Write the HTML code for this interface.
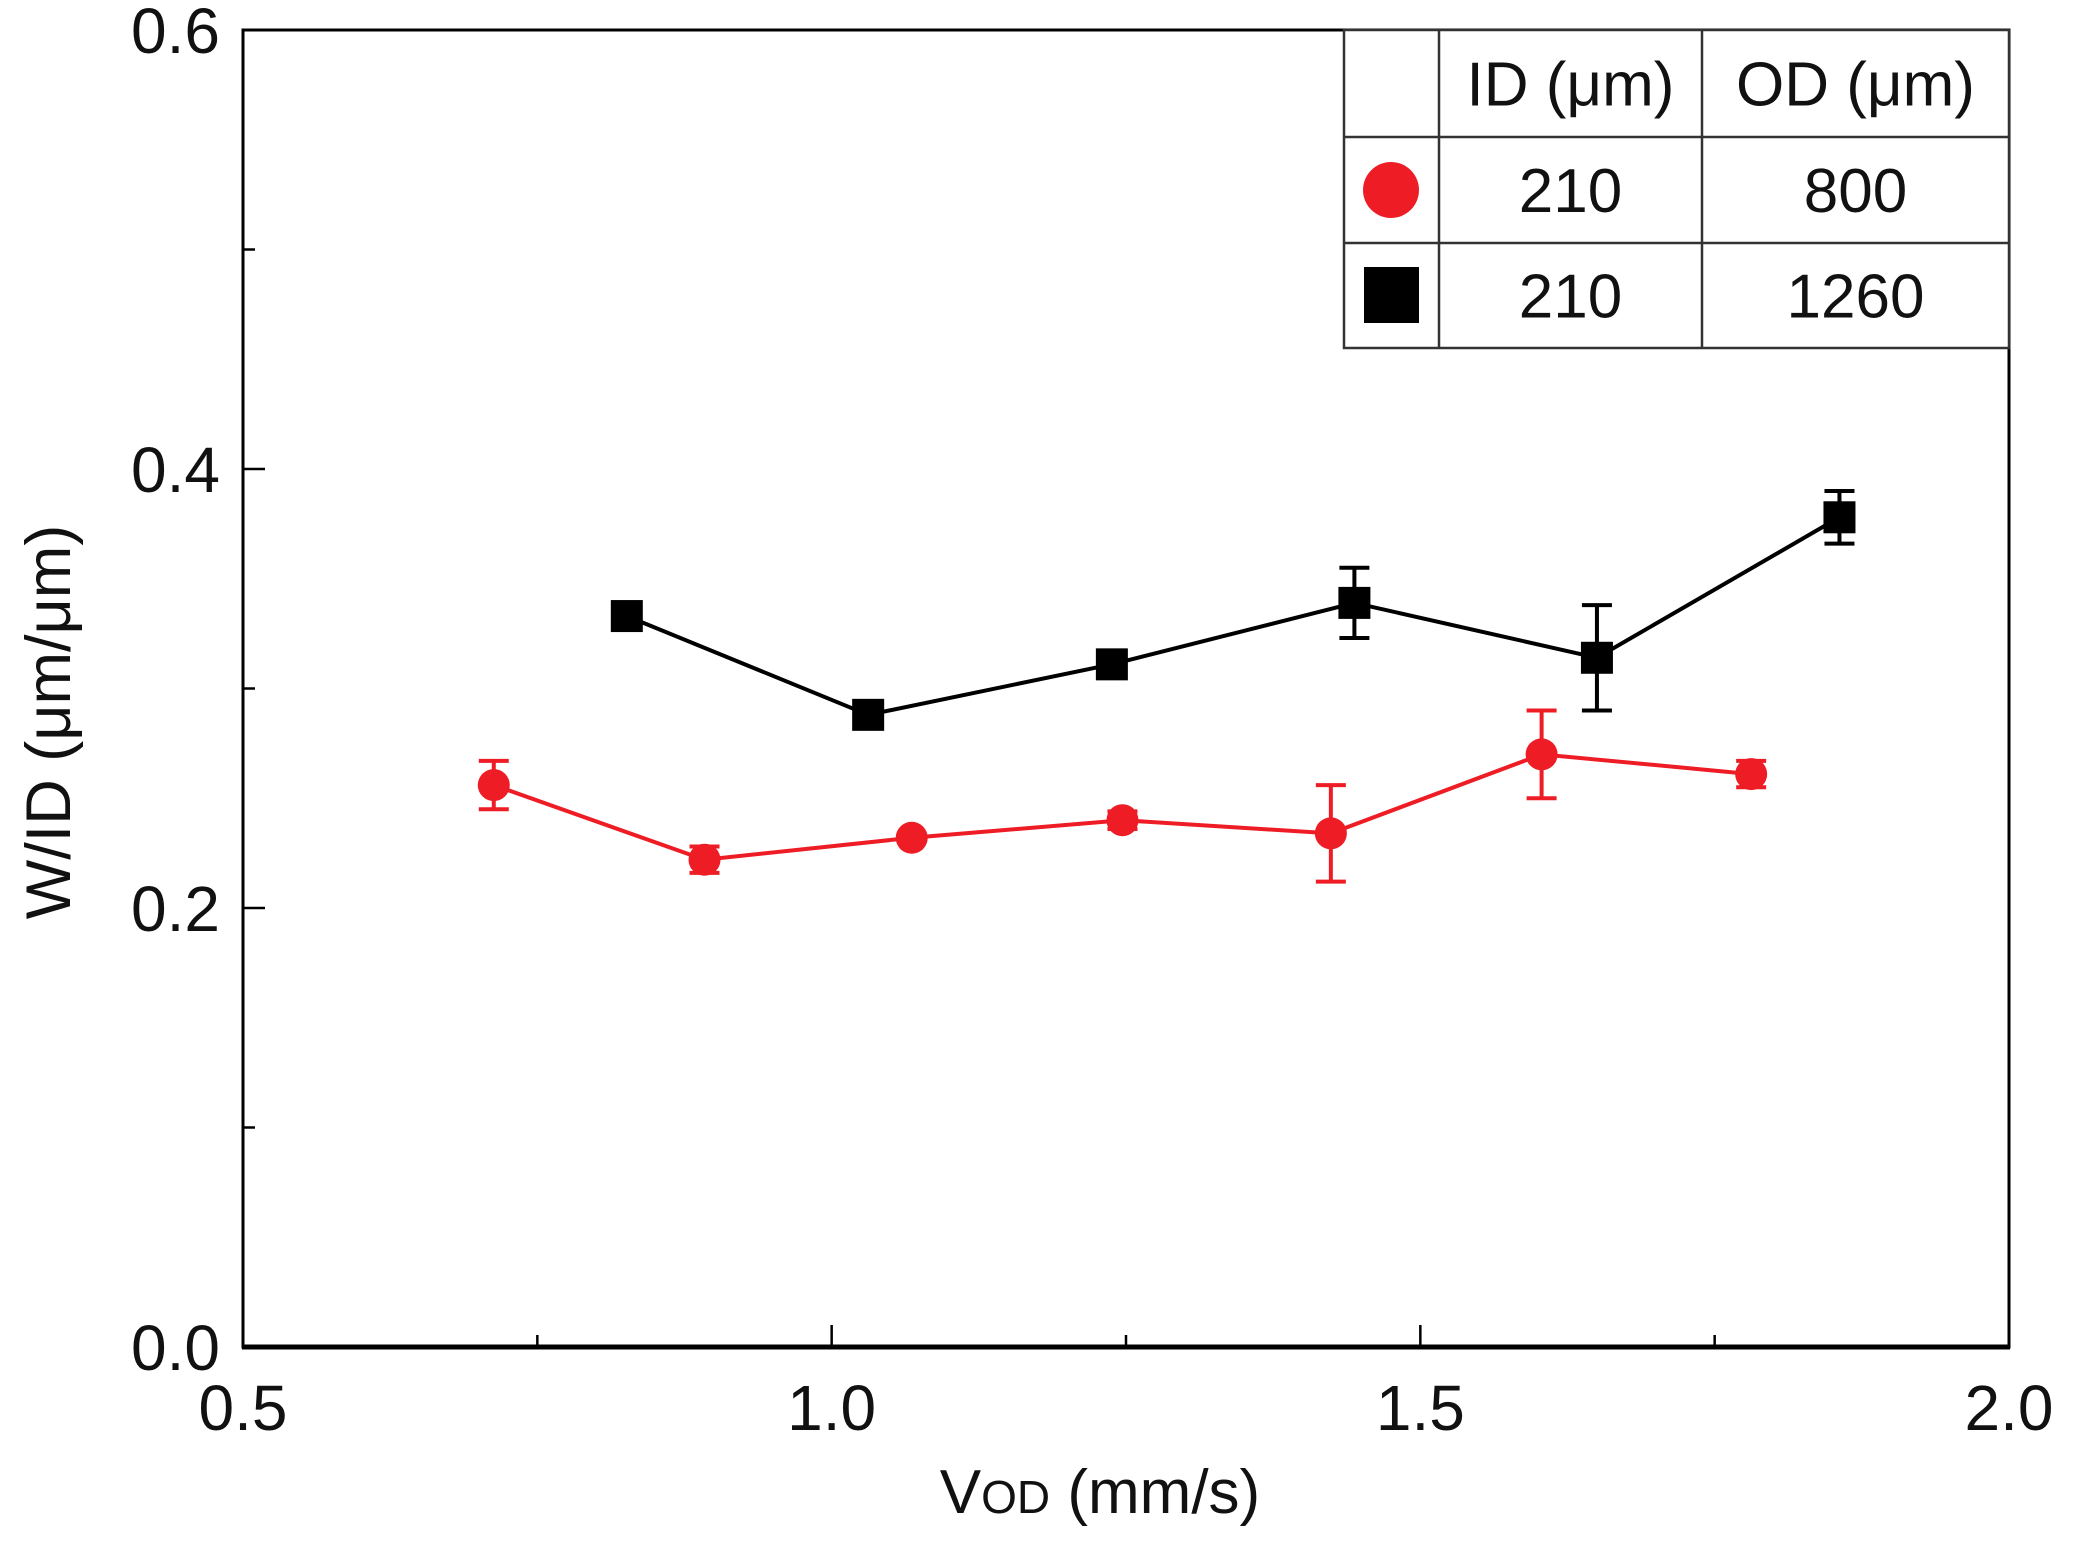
<!DOCTYPE html>
<html><head><meta charset="utf-8"><style>
html,body{margin:0;padding:0;background:#fff;}
svg{display:block;font-family:"Liberation Sans",sans-serif;}
</style></head><body>
<svg id="chart" width="2091" height="1544" viewBox="0 0 2091 1544" xmlns="http://www.w3.org/2000/svg">
<g id="axes"></g>
<g id="series"></g>
<g id="legend"></g>
</svg>
<script>
const xTicks = [0.5, 1.0, 1.5, 2.0];
const xTickLabels = ["0.5", "1.0", "1.5", "2.0"];
const xMinor = [0.75, 1.25, 1.75];
const yTicks = [0.0, 0.2, 0.4, 0.6];
const yTickLabels = ["0.0", "0.2", "0.4", "0.6"];
const yMinor = [0.1, 0.3, 0.5];
const redX = [0.713, 0.892, 1.068, 1.247, 1.424, 1.603, 1.781];
const redY = [0.256, 0.222, 0.232, 0.240, 0.234, 0.270, 0.261];
const redErr = [0.011, 0.006, 0, 0.004, 0.022, 0.020, 0.006];
const blackX = [0.826, 1.031, 1.238, 1.444, 1.650, 1.856];
const blackY = [0.333, 0.288, 0.311, 0.339, 0.314, 0.378];
const blackErr = [0, 0, 0, 0.016, 0.024, 0.012];

const NS = "http://www.w3.org/2000/svg";
const X0 = 243, X1 = 2009, Y0 = 1347, Y1 = 30;
function sx(v){ return X0 + (v - 0.5) / 1.5 * (X1 - X0); }
function sy(v){ return Y0 - v / 0.6 * (Y0 - Y1); }
function mk(tag, attrs, parent){ const e = document.createElementNS(NS, tag); for (const k in attrs) e.setAttribute(k, attrs[k]); parent.appendChild(e); return e; }

const axes = document.getElementById('axes');
let frame = mk('rect', {x:X0, y:Y1, width:X1-X0, height:Y0-Y1, fill:'none', stroke:'#000', 'stroke-width':3}, axes);


let bottom = mk('line', {x1:X0-1, x2:X1+1, y1:Y0, y2:Y0, stroke:'#000', 'stroke-width':5}, axes);



xTicks.forEach((v, i) => {
  const t = mk('line', {x1:sx(v), x2:sx(v), y1:Y0, y2:Y0-22, stroke:'#000', 'stroke-width':2.5}, axes);
  
  
  const l = mk('text', {x:sx(v), y:1430, 'font-size':64, 'text-anchor':'middle', fill:'#111'}, axes);
  l.textContent = xTickLabels[i];
  
  
});
xMinor.forEach(v => {
  const t = mk('line', {x1:sx(v), x2:sx(v), y1:Y0, y2:Y0-12, stroke:'#000', 'stroke-width':2.5}, axes);
  
  
});
yTicks.forEach((v, i) => {
  const t = mk('line', {x1:X0, x2:X0+22, y1:sy(v), y2:sy(v), stroke:'#000', 'stroke-width':2.5}, axes);
  
  
  const l = mk('text', {x:220, y:sy(v)+23, 'font-size':64, 'text-anchor':'end', fill:'#111'}, axes);
  l.textContent = yTickLabels[i];
  
  
});
yMinor.forEach(v => {
  const t = mk('line', {x1:X0, x2:X0+12, y1:sy(v), y2:sy(v), stroke:'#000', 'stroke-width':2.5}, axes);
  
  
});
const xt = mk('text', {x:1100, y:1513, 'font-size':62, 'text-anchor':'middle', fill:'#111'}, axes);
xt.innerHTML = 'V<tspan font-size="46">OD</tspan> (mm/s)';


const yt = mk('text', {x:0, y:0, 'font-size':63, 'text-anchor':'middle', fill:'#111', transform:'translate(70,722) rotate(-90)'}, axes);
yt.textContent = 'W/ID (μm/μm)';



const series = document.getElementById('series');
function drawSeries(xs, ys, errs, color, shape, name){
  const g = mk('g', {}, series);
  
  
  const pts = xs.map((x, i) => sx(x) + ',' + sy(ys[i])).join(' ');
  const pl = mk('polyline', {points:pts, fill:'none', stroke:color, 'stroke-width':4}, g);
  
  
  xs.forEach((x, i) => {
    const cx = sx(x), cy = sy(ys[i]);
    if (errs[i] > 0) {
      const top = sy(ys[i] + errs[i]), bot = sy(ys[i] - errs[i]);
      const eb = mk('path', {d:`M${cx},${top}V${bot}M${cx-15},${top}H${cx+15}M${cx-15},${bot}H${cx+15}`, stroke:color, 'stroke-width':4, fill:'none'}, g);
      
      
    }
    let m;
    if (shape === 'circle') m = mk('circle', {cx:cx, cy:cy, r:16, fill:color}, g);
    else m = mk('rect', {x:cx-16, y:cy-16, width:32, height:32, fill:color}, g);
    
    
  });
}
drawSeries(blackX, blackY, blackErr, '#000', 'square', 'od-1260-series');
drawSeries(redX, redY, redErr, '#ee1c25', 'circle', 'od-800-series');

const lg = document.getElementById('legend');
const L = 1344, C1 = 1439, C2 = 1702, R = 2009, rows = [30, 137, 243, 348];
let bg = mk('rect', {x:L, y:rows[0], width:R-L, height:rows[3]-rows[0], fill:'#fff', stroke:'#333', 'stroke-width':2.5}, lg);


[C1, C2].forEach(x => { const l = mk('line', {x1:x, x2:x, y1:rows[0], y2:rows[3], stroke:'#333', 'stroke-width':2.5}, lg);   });
[rows[1], rows[2]].forEach(y => { const l = mk('line', {x1:L, x2:R, y1:y, y2:y, stroke:'#333', 'stroke-width':2.5}, lg);   });
const cells = [["ID  (μm)", "OD (μm)"], ["210", "800"], ["210", "1260"]];
cells.forEach((r, i) => {
  const cy = (rows[i] + rows[i+1]) / 2 + 22;
  [[(C1+C2)/2, r[0]], [(C2+R)/2, r[1]]].forEach(([x, s]) => {
    const t = mk('text', {x:x, y:cy, 'font-size':62, 'text-anchor':'middle', fill:'#111', 'xml:space':'preserve'}, lg);
    t.textContent = s;
    
    
  });
});
const lc = mk('circle', {cx:1391, cy:190, r:28, fill:'#ee1c25'}, lg);


const ls = mk('rect', {x:1364, y:267, width:55, height:56, fill:'#000'}, lg);


</script>
</body></html>
